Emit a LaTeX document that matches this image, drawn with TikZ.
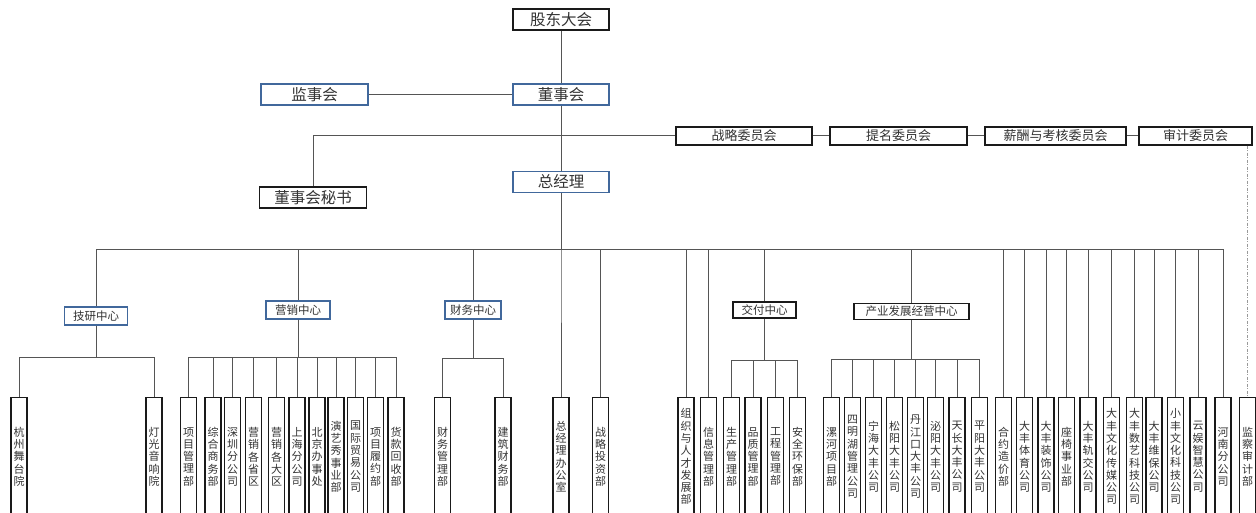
\documentclass[tikz,border=0pt]{standalone}
\usepackage{fontspec}
\newfontfamily\cjk{Noto Sans CJK SC}
\usepackage{tikz}
\usetikzlibrary{positioning}
\definecolor{blk}{HTML}{1A1A1A}
\definecolor{bdr}{HTML}{41689C}
\definecolor{lne}{HTML}{555555}
\definecolor{txt}{HTML}{333333}
% one character per line
\newcommand\vlab[1]{\vlabgo#1\vlabstop}
\let\vlabstop\relax
\def\vlabgo#1#2{#1\ifx\vlabstop#2\else\\\expandafter\vlabgo\expandafter#2\fi}
\tikzset{
  topbox/.style={draw=blk, line width=1.5pt, inner sep=0pt, minimum width=96, minimum height=21,
                 font=\cjk\fontsize{15.5}{17}\selectfont, text=txt},
  bluebox/.style={topbox, draw=bdr},
  comm/.style={draw=blk, line width=1.5pt, inner sep=0pt, minimum height=18,
               font=\cjk\fontsize{13}{14}\selectfont, text=txt},
  ctr/.style={draw=bdr, line width=1.5pt, inner sep=0pt, minimum height=18,
              font=\cjk\fontsize{11.5}{13}\selectfont, text=txt},
  ctrk/.style={ctr, draw=blk, minimum height=16},
  leaf/.style={draw=blk, line width=1.4pt, anchor=north, inner sep=0pt, minimum width=16,
               minimum height=118, align=center, font=\cjk\fontsize{11}{12.3}\selectfont, text=txt},
  conn/.style={draw=lne, line width=1pt},
  dconn/.style={draw=lne!60, line width=1pt, dash pattern=on 3pt off 1.5pt on 1pt off 1.5pt},
}

\begin{document}
\begin{tikzpicture}[x=1pt,y=-1pt]
  \fill[white] (0,0) rectangle (1256,513);
  \useasboundingbox (0,0) rectangle (1256,513);
  \clip (0,0) rectangle (1256,513);
  % board level
  \node[topbox] (gd) at (561,19.5) {股东大会};
  \node[bluebox] (bod) at (561,94.5) {董事会};
  \node[bluebox, minimum width=107] (jsh) at (314.5,94.5) {监事会};
  \node[topbox, minimum width=107] (sec) at (313,197.5) {董事会秘书};
  \node[bluebox] (gm) at (561,182) {总经理};
  \draw[conn] (gd.south) -- (bod.north);
  \draw[conn] (jsh.east) -- (bod.west);
  \draw[conn] (bod.south) -- (gm.north);
  % committees
  \node[comm, minimum width=136] (c1) at (744,136) {战略委员会};
  \node[comm, minimum width=137] (c2) at (898.5,136) {提名委员会};
  \node[comm, minimum width=141] (c3) at (1055.5,136) {薪酬与考核委员会};
  \node[comm, minimum width=113] (c4) at (1195.5,136) {审计委员会};
  \draw[conn] (sec.north) |- (c1.west);
  \draw[conn] (c1.east) -- (c2.west);
  \draw[conn] (c2.east) -- (c3.west);
  \draw[conn] (c3.east) -- (c4.west);
  % centres under the general manager
  \coordinate (gmb) at (561,250);
  \node[ctr, minimum width=63] (jy) at (96,316) {技研中心};
  \node[ctr, minimum width=64] (yx) at (298,310) {营销中心};
  \node[ctr, minimum width=56] (cw) at (473,310) {财务中心};
  \node[ctrk, minimum width=63] (jf) at (764.5,310) {交付中心};
  \node[ctrk, minimum width=115] (cy) at (911.5,311.5) {产业发展经营中心};
  \foreach \n in {jy,yx,cw,jf,cy}{\draw[conn] (gm.south) -- (gmb) -| (\n.north);}
  \coordinate (jyb) at (96,357);
  \coordinate (yxb) at (298,357);
  \coordinate (cwb) at (473,358);
  \coordinate (jfb) at (764.5,360);
  \coordinate (cyb) at (911.5,359);
  % departments
  \foreach \xx/\lbl [count=\i] in {19/杭州舞台院,154/灯光音响院}{
    \node[leaf] (jy\i) at (\xx,397) {\expandafter\vlab\expandafter{\lbl}};
    \draw[conn] (jy.south) -- (jyb) -| (jy\i.north);
  }
  \foreach \xx/\lbl [count=\i] in {188.5/项目管理部,213/综合商务部,232.5/深圳分公司,253.5/营销各省区,
      276.5/营销各大区,297/上海分公司,317/北京办事处,336/演艺秀事业部,355.5/国际贸易公司,
      375.5/项目履约部,396/货款回收部}{
    \node[leaf] (yx\i) at (\xx,397) {\expandafter\vlab\expandafter{\lbl}};
    \draw[conn] (yx.south) -- (yxb) -| (yx\i.north);
  }
  \foreach \xx/\lbl [count=\i] in {442.5/财务管理部,503/建筑财务部}{
    \node[leaf] (cw\i) at (\xx,397) {\expandafter\vlab\expandafter{\lbl}};
    \draw[conn] (cw.south) -- (cwb) -| (cw\i.north);
  }
  \foreach \xx/\lbl [count=\i] in {731.5/生产管理部,753/品质管理部,775.5/工程管理部,797.5/安全环保部}{
    \node[leaf] (jf\i) at (\xx,397) {\expandafter\vlab\expandafter{\lbl}};
    \draw[conn] (jf.south) -- (jfb) -| (jf\i.north);
  }
  \foreach \xx/\lbl [count=\i] in {831.5/漯河项目部,852.5/四明湖管理公司,873.5/宁海大丰公司,
      894.5/松阳大丰公司,915.5/丹江口大丰公司,935.5/泌阳大丰公司,957/天长大丰公司,979.5/平阳大丰公司}{
    \node[leaf] (cy\i) at (\xx,397) {\expandafter\vlab\expandafter{\lbl}};
    \draw[conn] (cy.south) -- (cyb) -| (cy\i.north);
  }
  \foreach \xx/\lbl [count=\i] in {561/总经理办公室,600.5/战略投资部,686/组织与人才发展部,708.5/信息管理部,
      1003.5/合约造价部,1024.5/大丰体育公司,1046/大丰装饰公司,1066.5/座椅事业部,1088/大丰轨交公司,
      1111.5/大丰文化传媒公司,1134.5/大丰数艺科技公司,1154/大丰维保公司,1175.5/小丰文化科技公司,
      1198/云娱智慧公司,1223/河南分公司}{
    \node[leaf] (zj\i) at (\xx,397) {\expandafter\vlab\expandafter{\lbl}};
    \draw[conn] (gm.south) -- (gmb) -| (zj\i.north);
  }
  % audit
  \node[leaf] (jc) at (1247.5,397) {\vlab{监察审计部}};
  \draw[dconn] (jc.north |- c4.south) -- (jc.north);
\end{tikzpicture}
\end{document}
